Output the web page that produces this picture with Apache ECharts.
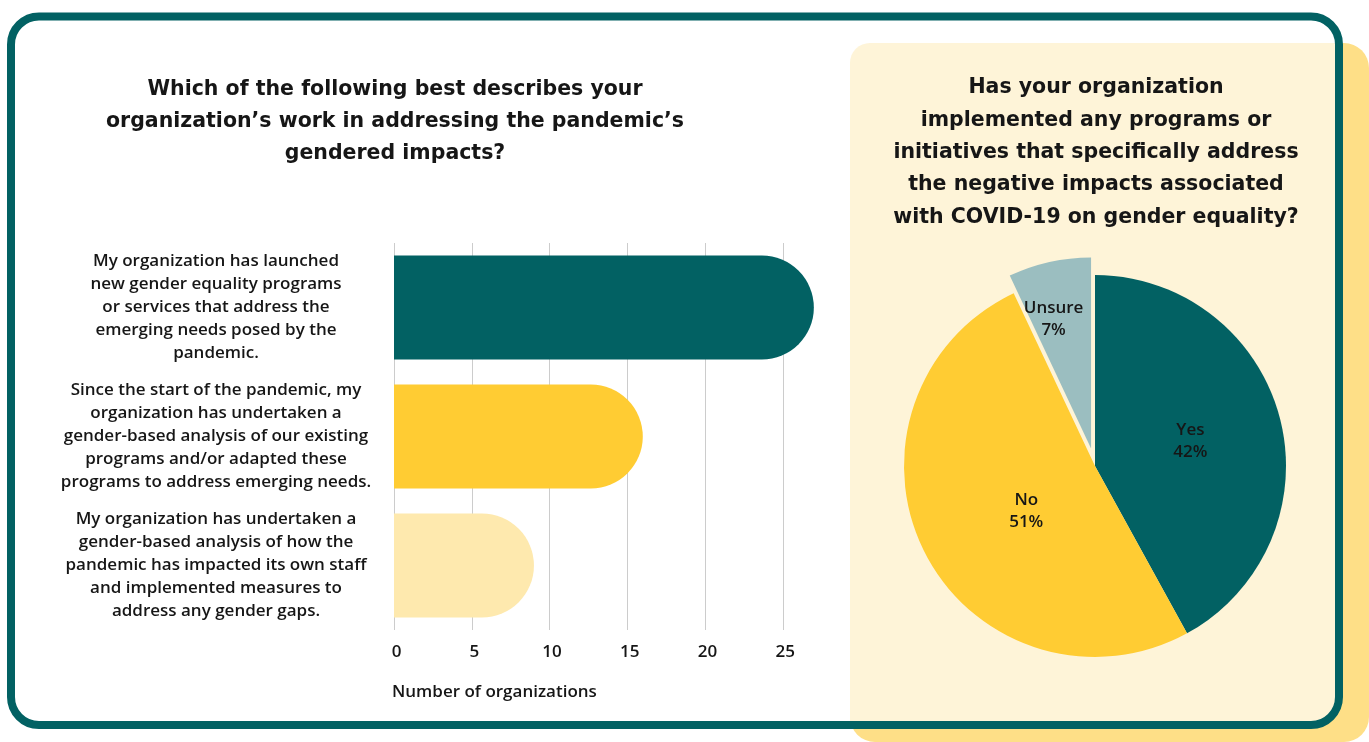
<!DOCTYPE html>
<html>
<head>
<meta charset="utf-8">
<script src="https://cdn.jsdelivr.net/npm/echarts@6/dist/echarts.min.js"></script>
<style>
html,body{margin:0;padding:0;background:#fff;}
#c{width:1369px;height:742px;}
</style>
</head>
<body>
<div id="c"></div>
<script>
// ---- data ----
const barCategories = [
  "My organization has launched\nnew gender equality programs\nor services that address the\nemerging needs posed by the\npandemic.",
  "Since the start of the pandemic, my\norganization has undertaken a\ngender-based analysis of our existing\nprograms and/or adapted these\nprograms to address emerging needs.",
  "My organization has undertaken a\ngender-based analysis of how the\npandemic has impacted its own staff\nand implemented measures to\naddress any gender gaps."
];
const barValues = [27, 16, 9];
const xTicks = [0, 5, 10, 15, 20, 25];
const pieNames = ["Yes", "No", "Unsure"];
const pieValues = [42, 51, 7];
const leftTitle = "Which of the following best describes your\norganization\u2019s work in addressing the pandemic\u2019s\ngendered impacts?";
const rightTitle = "Has your organization\nimplemented any programs or\ninitiatives that specifically address\nthe negative impacts associated\nwith COVID-19 on gender equality?";
const xAxisName = "Number of organizations";

// ---- styles ----
const TEAL = "#026163";
const barColors = ["#026163", "#FFCC33", "#FEE9AE"];
const pieColors = ["#026163", "#FFCC33", "#9BBEC0"];
const FONT = '"Open Sans", "Noto Sans", sans-serif';
const TFONT = '"DejaVu Sans", "Open Sans", sans-serif';
const TXT = "#161616";

const chart = echarts.init(document.getElementById('c'));
chart.setOption({
  backgroundColor: '#ffffff',
  animation: false,
  graphic: [
    { type: 'rect', z: 1, shape: { x: 850, y: 43, width: 519, height: 699, r: 25 }, style: { fill: '#FEDF87' } },
    { type: 'rect', z: 1, shape: { x: 850, y: 43, width: 489, height: 682, r: [20, 0, 28, 0] }, style: { fill: '#FEF4D8' } },
    { type: 'rect', z: 3, shape: { x: 11, y: 16.5, width: 1328, height: 708.5, r: 28 }, style: { fill: null, stroke: TEAL, lineWidth: 8 } },
    { type: 'text', z: 4, x: 395, y: 74, style: { text: leftTitle, align: 'center', verticalAlign: 'top', fontSize: 20.5, fontWeight: 700, fontFamily: TFONT, lineHeight: 32, fill: TXT } },
    { type: 'text', z: 4, x: 1096, y: 72, style: { text: rightTitle, align: 'center', verticalAlign: 'top', fontSize: 20.5, fontWeight: 700, fontFamily: TFONT, lineHeight: 32.3, fill: TXT } },
    { type: 'text', z: 4, x: 392, y: 692, style: { text: xAxisName, align: 'left', verticalAlign: 'middle', fontSize: 17, fontWeight: 600, fontFamily: FONT, fill: TXT } }
  ],
  grid: { left: 394, top: 243, bottom: 112, width: 30 * 15.55, containLabel: false },
  xAxis: {
    type: 'value', min: 0, max: 30, interval: 5,
    axisLine: { show: false }, axisTick: { show: false },
    splitLine: { show: true, lineStyle: { color: '#CCCCCC', width: 1 } },
    axisLabel: {
      margin: 14, fontSize: 17, fontWeight: 600, fontFamily: FONT, color: TXT, padding: [0, 0, 0, 5],
      formatter: v => (xTicks.indexOf(v) >= 0 ? String(v) : '')
    }
  },
  yAxis: {
    type: 'category', inverse: true, data: barCategories,
    axisLine: { show: false }, axisTick: { show: false },
    axisLabel: { align: 'center', margin: 178, fontSize: 17, fontWeight: 600, fontFamily: FONT, color: TXT, lineHeight: 23 }
  },
  series: [
    {
      type: 'bar', z: 2,
      barCategoryGap: '19.5%',
      data: barValues.map((v, i) => ({ value: v, itemStyle: { color: barColors[i], borderRadius: [0, 52, 52, 0] } }))
    },
    {
      type: 'pie', z: 5,
      center: [1095, 466], radius: 191,
      startAngle: 90, clockwise: true,
      selectedMode: 'single', selectedOffset: 18,
      select: { itemStyle: { borderWidth: 0 } },
      itemStyle: { borderWidth: 0 },
      label: {
        show: true, position: 'inside', formatter: '{b}\n{c}%',
        fontSize: 17, fontWeight: 600, fontFamily: FONT, color: TXT, lineHeight: 22
      },
      labelLine: { show: false },
      labelLayout: function (p) {
        if (p.dataIndex === 2) return { dx: -16, dy: -33 };
        if (p.dataIndex === 1) return { dx: 19 };
        return {};
      },
      emphasis: { disabled: true },
      data: pieValues.map((v, i) => ({ name: pieNames[i], value: v, selected: i === 2, itemStyle: { color: pieColors[i] } }))
    }
  ]
});
</script>
</body>
</html>
